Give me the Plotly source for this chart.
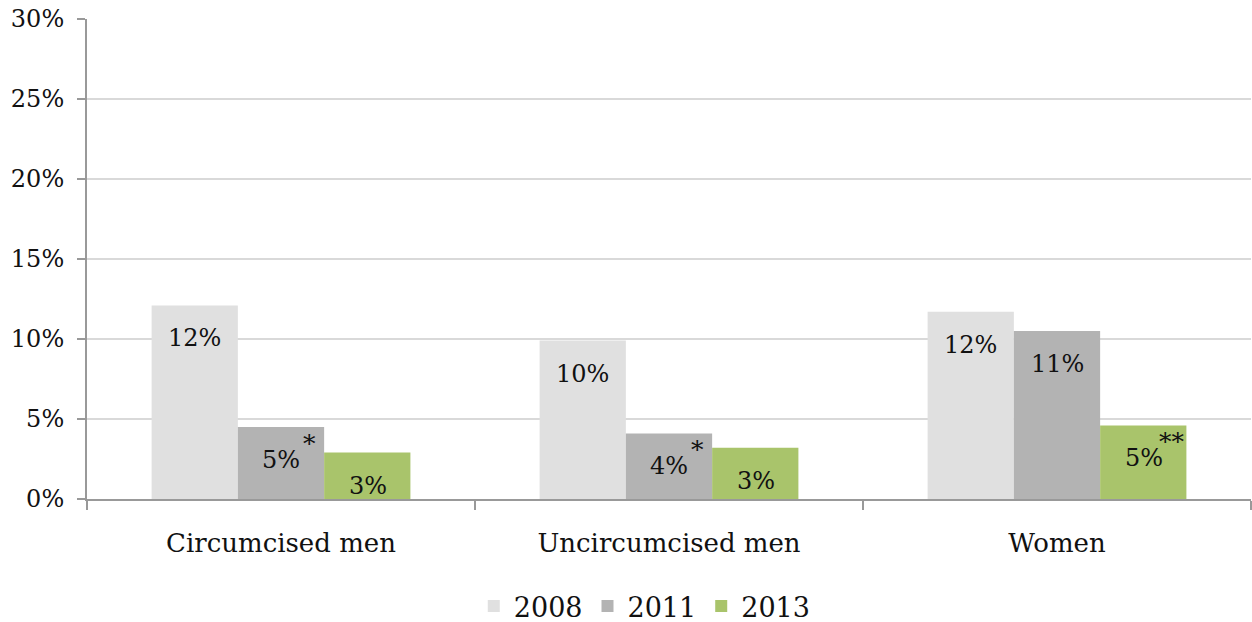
import math
import plotly.graph_objects as go

categories = ["Circumcised men", "Uncircumcised men", "Women"]
years = ["2008", "2011", "2013"]
values = {
    "2008": [12.1, 9.9, 11.7],
    "2011": [4.5, 4.1, 10.5],
    "2013": [2.9, 3.2, 4.6],
}
# significance markers shown beside the value labels
markers = {
    "2008": ["", "", ""],
    "2011": ["*", "*", ""],
    "2013": ["", "", "**"],
}
colors = {"2008": "#e0e0e0", "2011": "#b3b3b3", "2013": "#a9c46b"}
y_ticks = [0, 5, 10, 15, 20, 25, 30]

FONT = "DejaVu Serif"
BAR_PX = 87  # pixel width of one bar within a group


def pct_label(v):
    # round half up, as the value labels do
    return f"{math.floor(v + 0.5)}%"


fig = go.Figure()
for yr in years:
    fig.add_trace(go.Bar(
        name=yr, x=categories, y=values[yr],
        marker=dict(color=colors[yr], line=dict(width=0)),
        hoverinfo="skip",
    ))

annotations = []
for i, yr in enumerate(years):
    shift = (i - 1) * BAR_PX
    for cat, v, m in zip(categories, values[yr], markers[yr]):
        annotations.append(dict(
            x=cat, y=v, xref="x", yref="y", text=pct_label(v), showarrow=False,
            xshift=shift, yshift=-33, xanchor="center", yanchor="middle",
            font=dict(family=FONT, size=24, color="#111"),
        ))
        if m:
            annotations.append(dict(
                x=cat, y=v, xref="x", yref="y", text=m, showarrow=False,
                xshift=shift + 28, yshift=-16, xanchor="center",
                yanchor="middle",
                font=dict(family=FONT, size=25, color="#111"),
            ))

fig.update_layout(
    width=1252, height=622,
    margin=dict(l=87, r=1, t=19, b=123, autoexpand=False),
    paper_bgcolor="white", plot_bgcolor="white",
    barmode="group", bargap=0.333, bargroupgap=0,
    font=dict(family=FONT, color="#111"),
    showlegend=True,
    legend=dict(
        orientation="h", xref="container", x=0.515, xanchor="center",
        yref="container", y=0.025, yanchor="middle",
        font=dict(family=FONT, size=27), itemwidth=30,
        traceorder="normal",
    ),
    xaxis=dict(
        type="category", tickson="boundaries", ticks="outside", ticklen=9,
        tickcolor="#999", tickwidth=2, showline=True, linecolor="#999",
        linewidth=2, showgrid=False,
        tickfont=dict(family=FONT, size=26), ticklabelstandoff=20,
    ),
    yaxis=dict(
        range=[0, 30], tickvals=y_ticks, ticktext=[f"{t}%" for t in y_ticks],
        ticks="outside", ticklen=8, tickcolor="#999", tickwidth=2,
        showline=True, linecolor="#999", linewidth=2,
        showgrid=True, gridcolor="#d9d9d9", gridwidth=2, zeroline=False,
        tickfont=dict(family=FONT, size=24), ticklabelstandoff=8,
    ),
    annotations=annotations,
)

fig.write_html("out.html")
